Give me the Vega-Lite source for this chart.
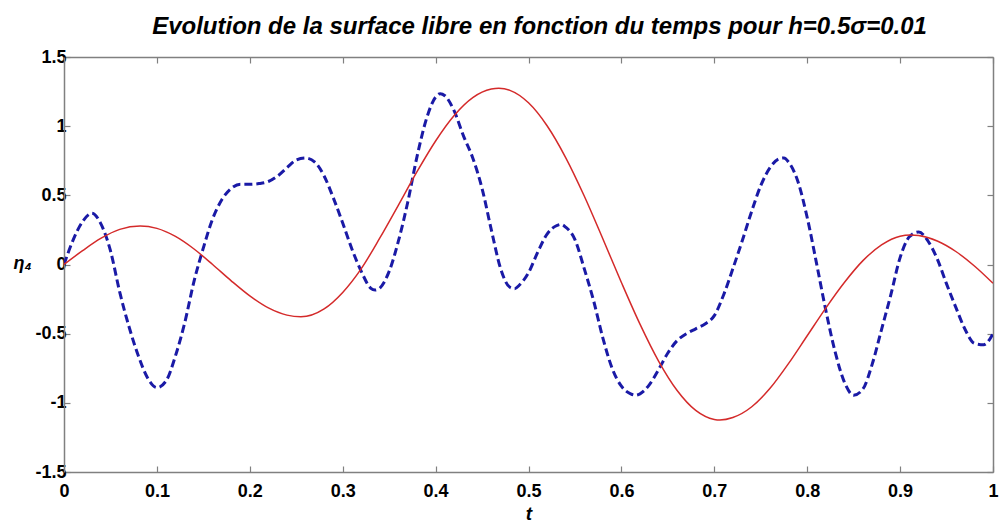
{
  "$schema": "https://vega.github.io/schema/vega-lite/v6.json",
  "width": 929,
  "height": 415,
  "autosize": {"type": "none"},
  "padding": {"left": 64, "top": 57, "right": 7, "bottom": 57},
  "background": "white",
  "title": {
    "text": "Evolution de la surface libre en fonction du temps pour h=0.5σ=0.01",
    "font": "Liberation Sans",
    "fontSize": 24,
    "fontStyle": "italic",
    "fontWeight": "bold",
    "color": "black",
    "anchor": "middle",
    "frame": "group",
    "baseline": "alphabetic",
    "offset": -10,
    "dx": 11
  },
  "config": {
    "view": {"stroke": null},
    "axis": {
      "grid": false,
      "domainColor": "#808080",
      "domainWidth": 1.5,
      "tickColor": "#808080",
      "tickWidth": 1.2,
      "tickSize": -6,
      "labelFont": "Liberation Sans",
      "labelFontWeight": "bold",
      "labelFontSize": 18,
      "labelColor": "black",
      "titleColor": "black"
    }
  },
  "datasets": {
    "courbes": [
      {"t": 0.0, "eta": 0.0, "serie": "rouge"},
      {"t": 0.02, "eta": 0.1, "serie": "rouge"},
      {"t": 0.04, "eta": 0.19, "serie": "rouge"},
      {"t": 0.06, "eta": 0.254, "serie": "rouge"},
      {"t": 0.082, "eta": 0.278, "serie": "rouge"},
      {"t": 0.1, "eta": 0.261, "serie": "rouge"},
      {"t": 0.12, "eta": 0.203, "serie": "rouge"},
      {"t": 0.14, "eta": 0.112, "serie": "rouge"},
      {"t": 0.16, "eta": 0.0, "serie": "rouge"},
      {"t": 0.18, "eta": -0.118, "serie": "rouge"},
      {"t": 0.2, "eta": -0.227, "serie": "rouge"},
      {"t": 0.22, "eta": -0.314, "serie": "rouge"},
      {"t": 0.24, "eta": -0.366, "serie": "rouge"},
      {"t": 0.255, "eta": -0.378, "serie": "rouge"},
      {"t": 0.28, "eta": -0.321, "serie": "rouge"},
      {"t": 0.3, "eta": -0.202, "serie": "rouge"},
      {"t": 0.32, "eta": -0.03, "serie": "rouge"},
      {"t": 0.34, "eta": 0.192, "serie": "rouge"},
      {"t": 0.36, "eta": 0.43, "serie": "rouge"},
      {"t": 0.38, "eta": 0.671, "serie": "rouge"},
      {"t": 0.4, "eta": 0.893, "serie": "rouge"},
      {"t": 0.42, "eta": 1.077, "serie": "rouge"},
      {"t": 0.44, "eta": 1.206, "serie": "rouge"},
      {"t": 0.46, "eta": 1.268, "serie": "rouge"},
      {"t": 0.468, "eta": 1.274, "serie": "rouge"},
      {"t": 0.48, "eta": 1.259, "serie": "rouge"},
      {"t": 0.5, "eta": 1.169, "serie": "rouge"},
      {"t": 0.52, "eta": 1.003, "serie": "rouge"},
      {"t": 0.54, "eta": 0.773, "serie": "rouge"},
      {"t": 0.56, "eta": 0.495, "serie": "rouge"},
      {"t": 0.58, "eta": 0.186, "serie": "rouge"},
      {"t": 0.6, "eta": -0.13, "serie": "rouge"},
      {"t": 0.62, "eta": -0.431, "serie": "rouge"},
      {"t": 0.64, "eta": -0.698, "serie": "rouge"},
      {"t": 0.66, "eta": -0.911, "serie": "rouge"},
      {"t": 0.68, "eta": -1.055, "serie": "rouge"},
      {"t": 0.7, "eta": -1.12, "serie": "rouge"},
      {"t": 0.706, "eta": -1.124, "serie": "rouge"},
      {"t": 0.72, "eta": -1.106, "serie": "rouge"},
      {"t": 0.74, "eta": -1.03, "serie": "rouge"},
      {"t": 0.76, "eta": -0.895, "serie": "rouge"},
      {"t": 0.78, "eta": -0.715, "serie": "rouge"},
      {"t": 0.8, "eta": -0.515, "serie": "rouge"},
      {"t": 0.82, "eta": -0.315, "serie": "rouge"},
      {"t": 0.84, "eta": -0.13, "serie": "rouge"},
      {"t": 0.86, "eta": 0.028, "serie": "rouge"},
      {"t": 0.88, "eta": 0.142, "serie": "rouge"},
      {"t": 0.9, "eta": 0.205, "serie": "rouge"},
      {"t": 0.911, "eta": 0.213, "serie": "rouge"},
      {"t": 0.92, "eta": 0.209, "serie": "rouge"},
      {"t": 0.94, "eta": 0.17, "serie": "rouge"},
      {"t": 0.96, "eta": 0.094, "serie": "rouge"},
      {"t": 0.98, "eta": -0.011, "serie": "rouge"},
      {"t": 1.0, "eta": -0.136, "serie": "rouge"},

      {"t": 0.0, "eta": 0.0, "serie": "bleu"},
      {"t": 0.01, "eta": 0.18, "serie": "bleu"},
      {"t": 0.02, "eta": 0.31, "serie": "bleu"},
      {"t": 0.03, "eta": 0.37, "serie": "bleu"},
      {"t": 0.04, "eta": 0.29, "serie": "bleu"},
      {"t": 0.05, "eta": 0.1, "serie": "bleu"},
      {"t": 0.06, "eta": -0.2, "serie": "bleu"},
      {"t": 0.07, "eta": -0.45, "serie": "bleu"},
      {"t": 0.08, "eta": -0.66, "serie": "bleu"},
      {"t": 0.09, "eta": -0.82, "serie": "bleu"},
      {"t": 0.1, "eta": -0.89, "serie": "bleu"},
      {"t": 0.11, "eta": -0.84, "serie": "bleu"},
      {"t": 0.12, "eta": -0.66, "serie": "bleu"},
      {"t": 0.13, "eta": -0.42, "serie": "bleu"},
      {"t": 0.14, "eta": -0.12, "serie": "bleu"},
      {"t": 0.15, "eta": 0.12, "serie": "bleu"},
      {"t": 0.16, "eta": 0.33, "serie": "bleu"},
      {"t": 0.17, "eta": 0.47, "serie": "bleu"},
      {"t": 0.18, "eta": 0.55, "serie": "bleu"},
      {"t": 0.19, "eta": 0.58, "serie": "bleu"},
      {"t": 0.2, "eta": 0.58, "serie": "bleu"},
      {"t": 0.21, "eta": 0.585, "serie": "bleu"},
      {"t": 0.22, "eta": 0.6, "serie": "bleu"},
      {"t": 0.23, "eta": 0.64, "serie": "bleu"},
      {"t": 0.24, "eta": 0.7, "serie": "bleu"},
      {"t": 0.25, "eta": 0.755, "serie": "bleu"},
      {"t": 0.26, "eta": 0.77, "serie": "bleu"},
      {"t": 0.27, "eta": 0.74, "serie": "bleu"},
      {"t": 0.28, "eta": 0.64, "serie": "bleu"},
      {"t": 0.29, "eta": 0.48, "serie": "bleu"},
      {"t": 0.3, "eta": 0.3, "serie": "bleu"},
      {"t": 0.31, "eta": 0.11, "serie": "bleu"},
      {"t": 0.32, "eta": -0.05, "serie": "bleu"},
      {"t": 0.33, "eta": -0.17, "serie": "bleu"},
      {"t": 0.335, "eta": -0.185, "serie": "bleu"},
      {"t": 0.34, "eta": -0.17, "serie": "bleu"},
      {"t": 0.35, "eta": -0.05, "serie": "bleu"},
      {"t": 0.36, "eta": 0.17, "serie": "bleu"},
      {"t": 0.37, "eta": 0.45, "serie": "bleu"},
      {"t": 0.38, "eta": 0.78, "serie": "bleu"},
      {"t": 0.39, "eta": 1.05, "serie": "bleu"},
      {"t": 0.4, "eta": 1.21, "serie": "bleu"},
      {"t": 0.405, "eta": 1.235, "serie": "bleu"},
      {"t": 0.41, "eta": 1.22, "serie": "bleu"},
      {"t": 0.42, "eta": 1.11, "serie": "bleu"},
      {"t": 0.43, "eta": 0.93, "serie": "bleu"},
      {"t": 0.44, "eta": 0.77, "serie": "bleu"},
      {"t": 0.45, "eta": 0.55, "serie": "bleu"},
      {"t": 0.46, "eta": 0.25, "serie": "bleu"},
      {"t": 0.47, "eta": -0.03, "serie": "bleu"},
      {"t": 0.48, "eta": -0.165, "serie": "bleu"},
      {"t": 0.485, "eta": -0.175, "serie": "bleu"},
      {"t": 0.49, "eta": -0.15, "serie": "bleu"},
      {"t": 0.5, "eta": -0.06, "serie": "bleu"},
      {"t": 0.51, "eta": 0.09, "serie": "bleu"},
      {"t": 0.52, "eta": 0.22, "serie": "bleu"},
      {"t": 0.53, "eta": 0.28, "serie": "bleu"},
      {"t": 0.535, "eta": 0.29, "serie": "bleu"},
      {"t": 0.54, "eta": 0.27, "serie": "bleu"},
      {"t": 0.55, "eta": 0.18, "serie": "bleu"},
      {"t": 0.56, "eta": -0.03, "serie": "bleu"},
      {"t": 0.57, "eta": -0.26, "serie": "bleu"},
      {"t": 0.58, "eta": -0.53, "serie": "bleu"},
      {"t": 0.59, "eta": -0.75, "serie": "bleu"},
      {"t": 0.6, "eta": -0.88, "serie": "bleu"},
      {"t": 0.61, "eta": -0.935, "serie": "bleu"},
      {"t": 0.615, "eta": -0.945, "serie": "bleu"},
      {"t": 0.62, "eta": -0.935, "serie": "bleu"},
      {"t": 0.63, "eta": -0.87, "serie": "bleu"},
      {"t": 0.64, "eta": -0.76, "serie": "bleu"},
      {"t": 0.65, "eta": -0.64, "serie": "bleu"},
      {"t": 0.66, "eta": -0.55, "serie": "bleu"},
      {"t": 0.67, "eta": -0.5, "serie": "bleu"},
      {"t": 0.68, "eta": -0.465, "serie": "bleu"},
      {"t": 0.69, "eta": -0.43, "serie": "bleu"},
      {"t": 0.7, "eta": -0.37, "serie": "bleu"},
      {"t": 0.71, "eta": -0.22, "serie": "bleu"},
      {"t": 0.72, "eta": -0.03, "serie": "bleu"},
      {"t": 0.73, "eta": 0.17, "serie": "bleu"},
      {"t": 0.74, "eta": 0.38, "serie": "bleu"},
      {"t": 0.75, "eta": 0.57, "serie": "bleu"},
      {"t": 0.76, "eta": 0.7, "serie": "bleu"},
      {"t": 0.77, "eta": 0.765, "serie": "bleu"},
      {"t": 0.775, "eta": 0.77, "serie": "bleu"},
      {"t": 0.78, "eta": 0.74, "serie": "bleu"},
      {"t": 0.79, "eta": 0.6, "serie": "bleu"},
      {"t": 0.8, "eta": 0.34, "serie": "bleu"},
      {"t": 0.81, "eta": 0.01, "serie": "bleu"},
      {"t": 0.82, "eta": -0.33, "serie": "bleu"},
      {"t": 0.83, "eta": -0.63, "serie": "bleu"},
      {"t": 0.84, "eta": -0.85, "serie": "bleu"},
      {"t": 0.85, "eta": -0.945, "serie": "bleu"},
      {"t": 0.86, "eta": -0.9, "serie": "bleu"},
      {"t": 0.87, "eta": -0.72, "serie": "bleu"},
      {"t": 0.88, "eta": -0.47, "serie": "bleu"},
      {"t": 0.89, "eta": -0.22, "serie": "bleu"},
      {"t": 0.9, "eta": 0.05, "serie": "bleu"},
      {"t": 0.91, "eta": 0.2, "serie": "bleu"},
      {"t": 0.92, "eta": 0.235, "serie": "bleu"},
      {"t": 0.93, "eta": 0.17, "serie": "bleu"},
      {"t": 0.94, "eta": 0.04, "serie": "bleu"},
      {"t": 0.95, "eta": -0.14, "serie": "bleu"},
      {"t": 0.96, "eta": -0.31, "serie": "bleu"},
      {"t": 0.97, "eta": -0.47, "serie": "bleu"},
      {"t": 0.98, "eta": -0.57, "serie": "bleu"},
      {"t": 0.99, "eta": -0.58, "serie": "bleu"},
      {"t": 1.0, "eta": -0.5, "serie": "bleu"}
    ]
  },
  "data": {"name": "courbes"},
  "layer": [
    {
      "transform": [{"filter": "datum.serie === 'bleu'"}],
      "mark": {"type": "line", "color": "#1a1aa6", "strokeWidth": 3, "strokeDash": [8, 4], "interpolate": "monotone", "clip": true},
      "encoding": {
        "x": {
          "field": "t", "type": "quantitative",
          "scale": {"domain": [0, 1], "nice": false, "zero": false},
          "axis": {"orient": "top", "labels": false, "title": null, "values": [0, 0.1, 0.2, 0.3, 0.4, 0.5, 0.6, 0.7, 0.8, 0.9, 1]}
        },
        "y": {
          "field": "eta", "type": "quantitative",
          "scale": {"domain": [-1.5, 1.5], "nice": false, "zero": false},
          "axis": {"orient": "right", "labels": false, "title": null, "values": [-1.5, -1, -0.5, 0, 0.5, 1, 1.5]}
        }
      }
    },
    {
      "transform": [{"filter": "datum.serie === 'rouge'"}],
      "mark": {"type": "line", "color": "#d42a2a", "strokeWidth": 1.5, "interpolate": "monotone", "clip": true},
      "encoding": {
        "x": {
          "field": "t", "type": "quantitative",
          "scale": {"domain": [0, 1], "nice": false, "zero": false},
          "axis": {
            "orient": "bottom",
            "values": [0, 0.1, 0.2, 0.3, 0.4, 0.5, 0.6, 0.7, 0.8, 0.9, 1],
            "labelExpr": "'' + datum.value",
            "labelPadding": 16,
            "labelFlush": false,
            "title": "t",
            "titleFont": "Liberation Sans",
            "titleFontStyle": "italic",
            "titleFontWeight": "bold",
            "titleFontSize": 19,
            "titlePadding": 4
          }
        },
        "y": {
          "field": "eta", "type": "quantitative",
          "scale": {"domain": [-1.5, 1.5], "nice": false, "zero": false},
          "axis": {
            "orient": "left",
            "values": [-1.5, -1, -0.5, 0, 0.5, 1, 1.5],
            "labelExpr": "'' + datum.value",
            "labelPadding": 4,
            "labelFlush": false,
            "title": "η₄",
            "titleAngle": 0,
            "titleFont": "Liberation Sans",
            "titleFontStyle": "italic",
            "titleFontWeight": "bold",
            "titleFontSize": 18,
            "titleX": -42,
            "titleY": 206,
            "titleAlign": "center",
            "titleBaseline": "middle"
          }
        }
      }
    }
  ],
  "resolve": {"axis": {"x": "independent", "y": "independent"}}
}
